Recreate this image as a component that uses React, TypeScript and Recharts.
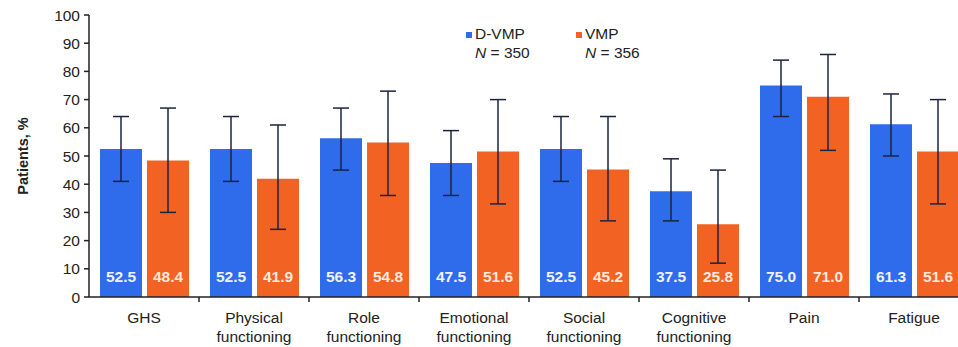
import { Bar, BarChart, ErrorBar, LabelList, Legend, XAxis, YAxis } from "recharts";

const categories = [
  "GHS",
  "Physical\nfunctioning",
  "Role\nfunctioning",
  "Emotional\nfunctioning",
  "Social\nfunctioning",
  "Cognitive\nfunctioning",
  "Pain",
  "Fatigue",
];
const dvmp = [52.5, 52.5, 56.3, 47.5, 52.5, 37.5, 75.0, 61.3];
const vmp = [48.4, 41.9, 54.8, 51.6, 45.2, 25.8, 71.0, 51.6];
// 95% CI bounds
const dvmpLow = [41, 41, 45, 36, 41, 27, 64, 50];
const dvmpHigh = [64, 64, 67, 59, 64, 49, 84, 72];
const vmpLow = [30, 24, 36, 33, 27, 12, 52, 33];
const vmpHigh = [67, 61, 73, 70, 64, 45, 86, 70];
const yTicks = [0, 10, 20, 30, 40, 50, 60, 70, 80, 90, 100];

const BLUE = "#2f6cec";
const ORANGE = "#f26222";
const INK = "#222";
const FONT = "'Liberation Sans', Arial, sans-serif";

const W = 975;
const H = 347;
const M = { top: 15, right: 6, bottom: 0, left: 0 };
const Y_W = 89;
const X_H = 50;
const PLOT_W = W - M.left - M.right - Y_W;
const BAND = PLOT_W / categories.length;
const BASE = H - M.bottom - X_H;

const data = categories.map((name, i) => ({
  name,
  dvmp: dvmp[i],
  vmp: vmp[i],
  dvmpErr: [dvmp[i] - dvmpLow[i], dvmpHigh[i] - dvmp[i]],
  vmpErr: [vmp[i] - vmpLow[i], vmpHigh[i] - vmp[i]],
}));

function CatTick(props: any) {
  const { x, payload, index } = props;
  const lines = String(payload.value).split("\n");
  return (
    <g>
      {index < categories.length - 1 && (
        <line x1={x + BAND / 2} x2={x + BAND / 2} y1={BASE} y2={BASE + 5} stroke={INK} strokeWidth={1.5} />
      )}
      <text x={x} y={BASE + 26} textAnchor="middle" fontSize={15.5} fill={INK} fontFamily={FONT}>
        {lines.map((l, i) => (
          <tspan key={i} x={x} dy={i === 0 ? 0 : 19}>{l}</tspan>
        ))}
      </text>
    </g>
  );
}

function ValueLabel(props: any) {
  const { x, y, width, height, value, fill } = props;
  return (
    <text x={x + width / 2} y={y + height - 15} textAnchor="middle" fontSize={15.5} fontWeight="bold"
      fill={fill} fontFamily={FONT}>
      {Number(value).toFixed(1)}
    </text>
  );
}

function LegendBox() {
  const item = (color: string, label: string, n: number, left: number) => (
    <div style={{ position: "absolute", left, top: 0, fontFamily: FONT, fontSize: 15.5, color: INK, lineHeight: "19px" }}>
      <div>
        <span style={{ display: "inline-block", width: 6, height: 6, background: color, marginRight: 3, verticalAlign: "middle" }} />
        {label}
      </div>
      <div style={{ paddingLeft: 9 }}><i>N</i> = {n}</div>
    </div>
  );
  return (
    <div style={{ position: "relative", height: 40 }}>
      {item(BLUE, "D-VMP", 350, 0)}
      {item(ORANGE, "VMP", 356, 110)}
    </div>
  );
}

export default function App() {
  return (
    <div style={{ position: "absolute", left: 0, top: 0, width: 958, height: H, overflow: "hidden", background: "#fff" }}>
      <BarChart width={W} height={H} data={data} margin={M} barCategoryGap="10%" barGap={5}>
        <XAxis dataKey="name" interval={0} height={X_H} tickLine={false} tick={<CatTick />}
          axisLine={{ stroke: INK, strokeWidth: 1.5 }} />
        <YAxis domain={[0, 100]} ticks={yTicks} width={Y_W} interval={0} tickSize={5} tickMargin={4}
          axisLine={{ stroke: INK, strokeWidth: 1.5 }} tickLine={{ stroke: INK, strokeWidth: 1.5 }}
          tick={{ fill: INK, fontSize: 15.5, fontFamily: FONT }}
          label={(p: any) => {
            const vb = p.viewBox;
            const cy = vb.y + vb.height / 2;
            return (
              <text x={23} y={cy} transform={`rotate(-90 23 ${cy})`} textAnchor="middle" dominantBaseline="central"
                fontSize={14.5} fontWeight="bold" fill={INK} fontFamily={FONT}>
                Patients, %
              </text>
            );
          }} />
        <Legend verticalAlign="middle" align="center" content={<LegendBox />}
          wrapperStyle={{ position: "absolute", top: 24, left: 466, width: 240, height: 40 }} />
        <Bar dataKey="dvmp" name="D-VMP" fill={BLUE} isAnimationActive={false}>
          <ErrorBar dataKey="dvmpErr" width={8} stroke="#1b2340" strokeWidth={1.5} />
          <LabelList dataKey="dvmp" content={(p: any) => <ValueLabel {...p} fill="#eef3ff" />} />
        </Bar>
        <Bar dataKey="vmp" name="VMP" fill={ORANGE} isAnimationActive={false}>
          <ErrorBar dataKey="vmpErr" width={8} stroke="#1b2340" strokeWidth={1.5} />
          <LabelList dataKey="vmp" content={(p: any) => <ValueLabel {...p} fill="#ffe9dd" />} />
        </Bar>
      </BarChart>
    </div>
  );
}
